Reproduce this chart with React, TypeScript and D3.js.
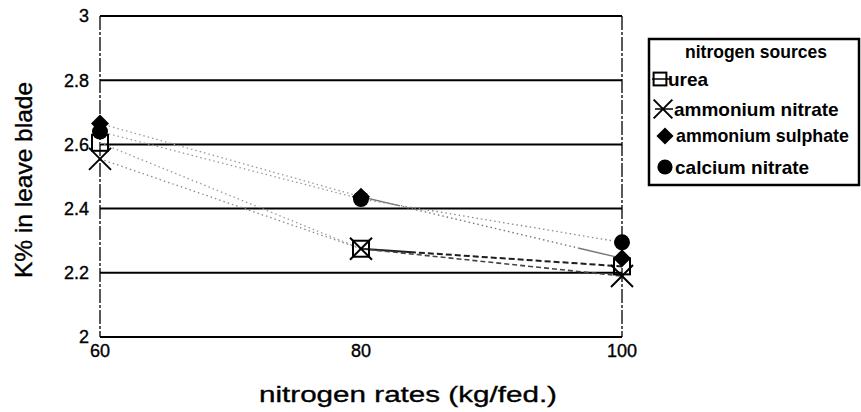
import React from "react";
import * as d3 from "d3";

// Nitrogen application rates (kg/fed.)
const rates = [60, 80, 100];

// K% in leaf blade for each nitrogen source
const urea = [2.605, 2.275, 2.22];
const ammoniumNitrate = [2.555, 2.275, 2.19];
const ammoniumSulphate = [2.665, 2.437, 2.245];
const calciumNitrate = [2.64, 2.43, 2.295];

const yTicks = [2, 2.2, 2.4, 2.6, 2.8, 3];
const yTickLabels = ["2", "2.2", "2.4", "2.6", "2.8", "3"];
const xTickLabels = ["60", "80", "100"];

const legendTitle = "nitrogen sources";
const seriesNames = ["urea", "ammonium nitrate", "ammonium sulphate", "calcium nitrate"];

const W = 861;
const H = 412;
const FONT = "'Liberation Sans', Arial, sans-serif";

type Shape = "square" | "cross" | "diamond" | "circle";
type SegStyle = { stroke: string; dash: string; width: number };

// a solid run leaving the marker, then a repeating dash pattern
const lead = (solid: number, on: number, off: number) =>
  [solid, off, ...Array.from({ length: 80 }, (_, i) => (i % 2 === 0 ? on : off))].join(",");

const faint: SegStyle = { stroke: "#9a9a9a", dash: "1.5,3", width: 1.3 };

const series: { name: string; values: number[]; shape: Shape; segs: SegStyle[] }[] = [
  {
    name: seriesNames[0],
    values: urea,
    shape: "square",
    segs: [faint, { stroke: "#1e1e1e", dash: lead(55, 6, 3), width: 2 }],
  },
  {
    name: seriesNames[1],
    values: ammoniumNitrate,
    shape: "cross",
    segs: [{ stroke: "#8a8a8a", dash: "1.5,3", width: 1.3 }, { stroke: "#444", dash: "5,3", width: 1.6 }],
  },
  {
    name: seriesNames[2],
    values: ammoniumSulphate,
    shape: "diamond",
    segs: [faint, { stroke: "#777", dash: lead(40, 1.5, 3), width: 1.4 }],
  },
  {
    name: seriesNames[3],
    values: calciumNitrate,
    shape: "circle",
    segs: [faint, { stroke: "#8a8a8a", dash: "1.5,3", width: 1.3 }],
  },
];

function Marker({ shape, x, y, s = 1 }: { shape: Shape; x: number; y: number; s?: number }) {
  if (shape === "square") {
    const h = 8 * s;
    return <rect x={x - h} y={y - h} width={2 * h} height={2 * h} fill="none" stroke="#000" strokeWidth={2} />;
  }
  if (shape === "cross") {
    const h = 11 * s;
    return (
      <g stroke="#000" strokeWidth={2}>
        <line x1={x - h} y1={y - h} x2={x + h} y2={y + h} />
        <line x1={x - h} y1={y + h} x2={x + h} y2={y - h} />
      </g>
    );
  }
  if (shape === "diamond") {
    const h = 9 * s;
    return <path d={`M${x},${y - h}L${x + h},${y}L${x},${y + h}L${x - h},${y}Z`} fill="#000" />;
  }
  return <circle cx={x} cy={y} r={8 * s} fill="#000" />;
}

export default function App() {
  const x = d3.scaleLinear().domain([60, 100]).range([100, 622]);
  const y = d3.scaleLinear().domain([2, 3]).range([337, 16]);
  const line = d3
    .line<[number, number]>()
    .x((d) => x(d[0]))
    .y((d) => y(d[1]));

  const legX = 649;
  const legY = 39;
  const legR = 859;
  const rowY = [79, 109, 136, 167];
  const markX = [660, 663, 665, 665];
  const textX = [668, 674, 676, 675];
  const rowFont = [19, 19, 17.8, 19];

  const inkText = { fill: "#000", stroke: "#000", strokeWidth: 0.35 };

  return (
    <svg width={W} height={H} style={{ position: "absolute", left: 0, top: 0, background: "#fff" }} fontFamily={FONT}>
      <rect width={W} height={H} fill="#fff" />

      {/* horizontal gridlines */}
      {yTicks.map((t) => (
        <line key={t} x1={x(60)} x2={x(100)} y1={y(t)} y2={y(t)} stroke="#000" strokeWidth={2} />
      ))}
      {/* left and right plot edges */}
      <line x1={x(60)} x2={x(60)} y1={y(3)} y2={y(2)} stroke="#000" strokeWidth={1.3} strokeDasharray="14,2,3,2" />
      <line x1={x(100)} x2={x(100)} y1={y(3)} y2={y(2)} stroke="#000" strokeWidth={1.3} strokeDasharray="14,2,3,2" />

      {/* y tick labels */}
      {yTicks.map((t, i) => (
        <text key={t} x={89} y={y(t)} dy="0.36em" textAnchor="end" fontSize={18} {...inkText}>
          {yTickLabels[i]}
        </text>
      ))}
      {/* x tick labels */}
      {rates.map((r, i) => (
        <text key={r} x={x(r)} y={357} textAnchor="middle" fontSize={18} {...inkText}>
          {xTickLabels[i]}
        </text>
      ))}

      {/* axis titles */}
      <text
        x={408}
        y={402}
        textAnchor="middle"
        fontSize={22.5}
        textLength={298}
        lengthAdjust="spacingAndGlyphs"
        {...inkText}
      >
        nitrogen rates (kg/fed.)
      </text>
      <text transform="translate(32,180) rotate(-90)" textAnchor="middle" fontSize={24.5} {...inkText}>
        K% in leave blade
      </text>

      {/* series lines, one path per interval */}
      {series.map((s) =>
        s.segs.map((st, i) => (
          <path
            key={`${s.name}-${i}`}
            d={line([
              [rates[i], s.values[i]],
              [rates[i + 1], s.values[i + 1]],
            ]) || ""}
            fill="none"
            stroke={st.stroke}
            strokeWidth={st.width}
            strokeDasharray={st.dash}
          />
        ))
      )}
      {/* series markers (drawn back to front) */}
      {[3, 2, 0, 1].map((k) =>
        series[k].values.map((v, i) => <Marker key={`${k}-${i}`} shape={series[k].shape} x={x(rates[i])} y={y(v)} />)
      )}

      {/* legend */}
      <rect x={legX} y={legY} width={legR - legX} height={146} fill="#fff" stroke="#000" strokeWidth={2.5} />
      <text x={756} y={58} textAnchor="middle" fontSize={17.5} fontWeight="bold" fill="#000">
        {legendTitle}
      </text>
      {series.map((s, i) => (
        <g key={s.name}>
          {(s.shape === "square" || s.shape === "cross") && (
            <line x1={markX[i] - 8} x2={markX[i] + 10} y1={rowY[i]} y2={rowY[i]} stroke="#000" strokeWidth={1.5} />
          )}
          <Marker
            shape={s.shape}
            x={markX[i]}
            y={rowY[i]}
            s={s.shape === "cross" ? 0.85 : s.shape === "square" ? 0.8 : 0.95}
          />
          <text x={textX[i]} y={rowY[i]} dy="0.36em" fontSize={rowFont[i]} fontWeight="bold" fill="#000">
            {s.name}
          </text>
        </g>
      ))}
    </svg>
  );
}
